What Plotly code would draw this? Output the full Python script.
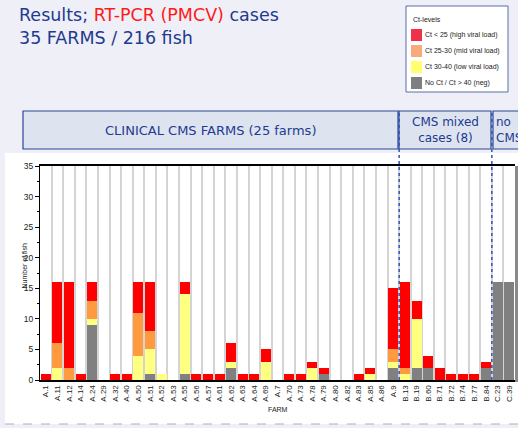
import plotly.graph_objects as go

farms = ["A.1", "A.11", "A.12", "A.14", "A.24", "A.29", "A.32", "A.40", "A.50", "A.51",
         "A.52", "A.53", "A.55", "A.56", "A.57", "A.61", "A.62", "A.63", "A.64", "A.69",
         "A.7", "A.70", "A.73", "A.78", "A.79", "A.80", "A.82", "A.83", "A.85", "A.86",
         "A.9", "B.13", "B.19", "B.60", "B.71", "B.72", "B.74", "B.77", "B.84", "C.23", "C.39"]
# number of fish per Ct level
neg  = [0, 0, 0, 0, 9, 0, 0, 0, 0, 1, 0, 0, 1, 0, 0, 0, 2, 0, 0, 0,
        0, 0, 0, 0, 1, 0, 0, 0, 0, 0, 2, 0, 2, 2, 0, 0, 0, 0, 2, 16, 16]
low  = [0, 2, 0, 0, 1, 0, 0, 0, 4, 4, 1, 0, 13, 0, 0, 0, 1, 0, 0, 3,
        0, 0, 0, 2, 0, 0, 0, 0, 1, 0, 1, 1, 8, 0, 0, 0, 0, 0, 0, 0, 0]
mid  = [0, 4, 2, 0, 3, 0, 0, 0, 7, 3, 0, 0, 0, 0, 0, 0, 0, 0, 0, 0,
        0, 0, 0, 0, 0, 0, 0, 0, 0, 0, 2, 1, 0, 0, 0, 0, 0, 0, 0, 0, 0]
high = [1, 10, 14, 1, 3, 0, 1, 1, 5, 8, 0, 0, 2, 1, 1, 1, 3, 1, 1, 2,
        0, 1, 1, 1, 1, 0, 0, 1, 1, 0, 10, 14, 3, 2, 2, 1, 1, 1, 1, 0, 0]

series_names = ["No Ct / Ct > 40 (neg)", "Ct 30-40 (low viral load)",
                "Ct 25-30 (mid viral load)", "Ct < 25 (high viral load)"]
bar_colors = ["#808080", "#ffff80", "#ff9a40", "#ff0000"]
legend_colors = ["#7f7f7f", "#ffff70", "#f7aa7a", "#ee3048"]

groups = ["CLINICAL CMS FARMS (25 farms)", "CMS mixed<br>cases (8)", "no<br>CMS"]
group_split = [30.5, 38.5]  # boundaries between groups (category index)

W, H = 518, 428
L, R, T, B = 40, 515, 166, 380

def px(x):
    return (x - L) / (R - L)

def py(y):
    return (B - y) / (B - T)

fig = go.Figure()
for name, vals, col in zip(series_names, [neg, low, mid, high], bar_colors):
    fig.add_trace(go.Bar(x=farms, y=vals, name=name, marker=dict(color=col, line=dict(width=0)),
                         showlegend=False, hoverinfo="skip"))

shapes = []
annotations = []

# white panel behind chart
shapes.append(dict(type="rect", xref="paper", yref="paper", x0=px(5), x1=px(520), y0=py(424), y1=py(153),
                   fillcolor="white", line=dict(width=0), layer="below"))
shapes.append(dict(type="line", xref="paper", yref="paper", x0=px(5), x1=px(520), y0=py(424), y1=py(424),
                   line=dict(color="#b0b0b0", width=1, dash="dash"), layer="below"))
# right shadow
shapes.append(dict(type="rect", xref="paper", yref="paper", x0=px(515), x1=px(519), y0=py(382), y1=py(166),
                   fillcolor="#8a8a8a", line=dict(width=0)))

# header boxes
hdr = [(23, 398), (399, 491), (493, 522)]
for (a, b) in hdr:
    shapes.append(dict(type="rect", xref="paper", yref="paper", x0=px(a), x1=px(b), y0=py(149), y1=py(111),
                       fillcolor="#dde4f0", line=dict(color="#2a4795", width=1.2)))
annotations.append(dict(xref="paper", yref="paper", x=px(210), y=py(130), text=groups[0], showarrow=False,
                        font=dict(family="DejaVu Sans", size=13, color="#1f3a8f"), xanchor="center", yanchor="middle"))
annotations.append(dict(xref="paper", yref="paper", x=px(445), y=py(130), text=groups[1], showarrow=False,
                        font=dict(family="DejaVu Sans", size=12, color="#1f3a8f"), xanchor="center", yanchor="middle"))
annotations.append(dict(xref="paper", yref="paper", x=px(494), y=py(130), text=groups[2], showarrow=False, align="left",
                        font=dict(family="DejaVu Sans", size=12, color="#1f3a8f"), xanchor="left", yanchor="middle"))

# dotted group separators
for xs in group_split:
    shapes.append(dict(type="line", xref="x", yref="paper", x0=xs, x1=xs, y0=0, y1=py(111),
                       line=dict(color="#2f55b8", width=1.5, dash="dot")))

# title
annotations.append(dict(xref="paper", yref="paper", x=px(17), y=py(3), xanchor="left", yanchor="top", align="left",
                        showarrow=False,
                        text="Results; <span style='color:#ff1a1a'>RT-PCR (PMCV)</span> cases<br>35 FARMS / 216 fish",
                        font=dict(family="DejaVu Sans", size=17.5, color="#1f3a8f")))

# custom legend
shapes.append(dict(type="rect", xref="paper", yref="paper", x0=px(406), x1=px(508), y0=py(92), y1=py(6),
                   fillcolor="white", line=dict(color="#5a6fa5", width=1)))
annotations.append(dict(xref="paper", yref="paper", x=px(411), y=py(19), text="Ct-levels", showarrow=False,
                        xanchor="left", yanchor="middle", font=dict(family="Liberation Sans", size=7, color="#222")))
leg_y = [35, 51, 67, 83]
for yy, name, col in zip(leg_y, series_names[::-1], legend_colors[::-1]):
    shapes.append(dict(type="rect", xref="paper", yref="paper", x0=px(411), x1=px(422), y0=py(yy + 6), y1=py(yy - 6),
                       fillcolor=col, line=dict(width=0)))
    annotations.append(dict(xref="paper", yref="paper", x=px(422.5), y=py(yy), text=name, showarrow=False,
                            xanchor="left", yanchor="middle", font=dict(family="Liberation Sans", size=7, color="#222")))

# axis titles
annotations.append(dict(xref="paper", yref="paper", x=px(18), y=py(266), text="Number of fish", textangle=-90,
                        showarrow=False, font=dict(family="Liberation Sans", size=7, color="#222")))
annotations.append(dict(xref="paper", yref="paper", x=px(278), y=py(415), text="FARM",
                        showarrow=False, font=dict(family="Liberation Sans", size=7, color="#222")))

fig.update_layout(
    width=W, height=H,
    margin=dict(l=L, r=W - R, t=T, b=H - B, pad=0),
    paper_bgcolor="#eeeff7", plot_bgcolor="white",
    barmode="stack", bargap=0.14,
    shapes=shapes, annotations=annotations,
    showlegend=False, hovermode=False,
    xaxis=dict(type="category", range=[-0.5, len(farms) - 0.5], tickson="boundaries",
               showgrid=True, gridcolor="#d4d4d4", gridwidth=1.5, ticks="",
               tickangle=-90, tickfont=dict(family="Liberation Sans", size=8, color="#222"),
               showline=True, mirror=True, linecolor="black", linewidth=2, zeroline=False),
    yaxis=dict(range=[0, 35], tickvals=[0, 5, 10, 15, 20, 25, 30, 35], ticks="outside", ticklen=4,
               tickcolor="black", tickfont=dict(family="Liberation Sans", size=8.5, color="#222"),
               showgrid=False, zeroline=False, showline=True, linecolor="black", linewidth=1,
               minor=dict(dtick=2.5, ticks="outside", ticklen=2, tickcolor="black")),
)

fig.write_html("out.html", config={"displayModeBar": False},
               post_script="document.body.style.margin='0px';document.body.style.overflow='hidden';")
